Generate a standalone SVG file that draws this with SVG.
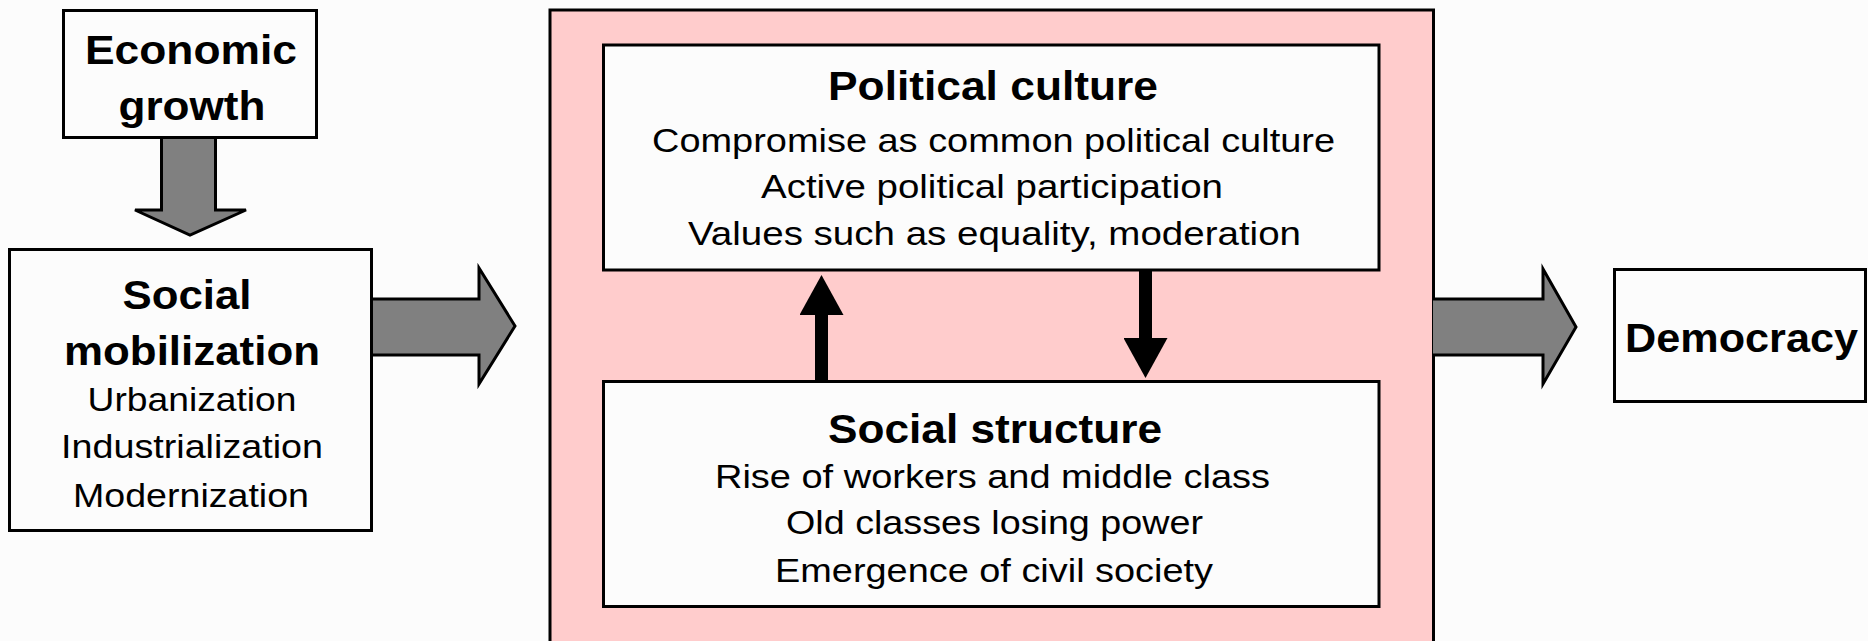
<svg xmlns="http://www.w3.org/2000/svg" width="1868" height="641" viewBox="0 0 1868 641">
  <defs>
    <style>
      .box { fill: #FCFCFC; stroke: #000; stroke-width: 3; }
      .frame { fill: #FFCCCC; stroke: #000; stroke-width: 3; }
      .block { fill: #808080; stroke: #000; stroke-width: 3; stroke-linejoin: miter; }
      .link { stroke: #000; stroke-width: 13; fill: none; }
      .title { font-family: "Liberation Sans", Arial, sans-serif; font-weight: bold; font-size: 41px; fill: #000; text-anchor: middle; }
      .item { font-family: "Liberation Sans", Arial, sans-serif; font-size: 33px; fill: #000; text-anchor: middle; }
    </style>
    <marker id="head" markerUnits="userSpaceOnUse" markerWidth="40" markerHeight="44" refX="0" refY="22" orient="auto">
      <path d="M0,0 L40,22 L0,44 z" fill="#000"/>
    </marker>
  </defs>

  <rect width="1868" height="641" fill="#FCFCFC"/>

  <!-- container for the inner feedback loop -->
  <g id="core">
    <rect class="frame" x="550" y="10" width="883.5" height="660"/>
  </g>

  <!-- connectors -->
  <g id="connectors">
    <path class="block" d="M161.5,137 L161.5,210 L135,210 L190,235 L246,210 L215.5,210 L215.5,137"/>
    <path class="block" d="M371,299 L479,299 L479,268 L515,326 L479,384 L479,355 L371,355"/>
    <path class="block" d="M1433,299 L1543,299 L1543,269 L1576,327 L1543,384 L1543,355 L1433,355"/>
    <line class="link" x1="821.5" y1="381" x2="821.5" y2="315" marker-end="url(#head)"/>
    <line class="link" x1="1145.5" y1="270" x2="1145.5" y2="338" marker-end="url(#head)"/>
  </g>

  <g id="economic-growth">
    <rect class="box" x="63.5" y="10.5" width="253" height="127"/>
    <text class="title" x="191" y="64" textLength="212" lengthAdjust="spacingAndGlyphs">Economic</text>
    <text class="title" x="192" y="120" textLength="147" lengthAdjust="spacingAndGlyphs">growth</text>
  </g>

  <g id="social-mobilization">
    <rect class="box" x="9.5" y="249.5" width="362" height="281"/>
    <text class="title" x="187" y="309" textLength="129" lengthAdjust="spacingAndGlyphs">Social</text>
    <text class="title" x="192" y="365" textLength="256" lengthAdjust="spacingAndGlyphs">mobilization</text>
    <text class="item" x="192" y="411" textLength="209" lengthAdjust="spacingAndGlyphs">Urbanization</text>
    <text class="item" x="192" y="458" textLength="262" lengthAdjust="spacingAndGlyphs">Industrialization</text>
    <text class="item" x="191" y="507" textLength="236" lengthAdjust="spacingAndGlyphs">Modernization</text>
  </g>

  <g id="political-culture">
    <rect class="box" x="603.5" y="45" width="775.5" height="225"/>
    <text class="title" x="993" y="100" textLength="330" lengthAdjust="spacingAndGlyphs">Political culture</text>
    <text class="item" x="993.5" y="152" textLength="683" lengthAdjust="spacingAndGlyphs">Compromise as common political culture</text>
    <text class="item" x="992" y="198" textLength="462" lengthAdjust="spacingAndGlyphs">Active political participation</text>
    <text class="item" x="994.5" y="245" textLength="613" lengthAdjust="spacingAndGlyphs">Values such as equality, moderation</text>
  </g>

  <g id="social-structure">
    <rect class="box" x="603.5" y="381.5" width="775.5" height="225"/>
    <text class="title" x="995" y="443" textLength="334" lengthAdjust="spacingAndGlyphs">Social structure</text>
    <text class="item" x="992.5" y="488" textLength="555" lengthAdjust="spacingAndGlyphs">Rise of workers and middle class</text>
    <text class="item" x="994.5" y="534" textLength="417" lengthAdjust="spacingAndGlyphs">Old classes losing power</text>
    <text class="item" x="994" y="582" textLength="438" lengthAdjust="spacingAndGlyphs">Emergence of civil society</text>
  </g>

  <g id="democracy">
    <rect class="box" x="1614.5" y="269.5" width="251" height="132"/>
    <text class="title" x="1741.5" y="352" textLength="233" lengthAdjust="spacingAndGlyphs">Democracy</text>
  </g>
</svg>
